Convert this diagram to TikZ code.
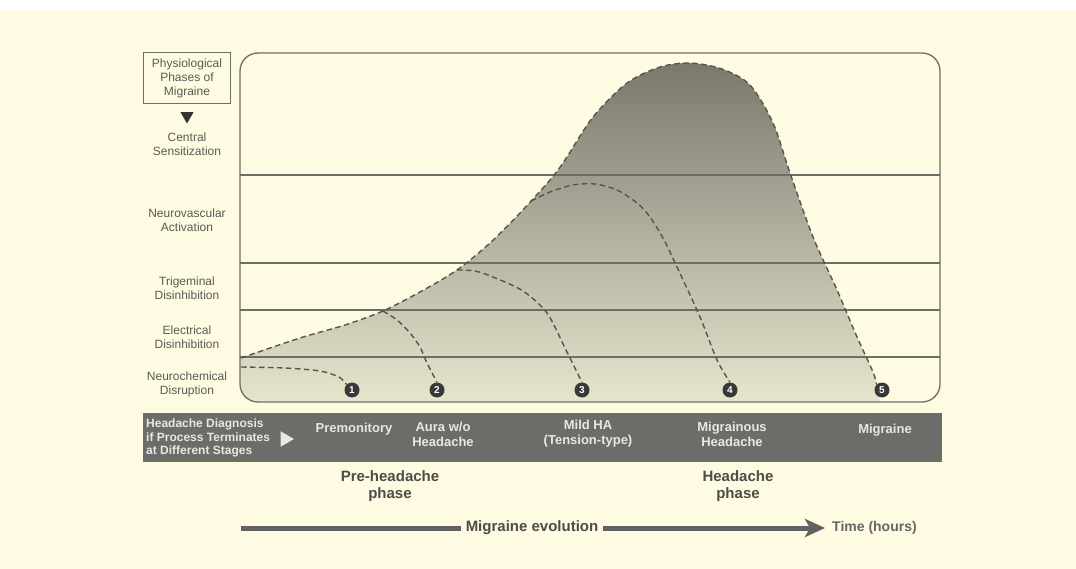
\documentclass[tikz,border=0pt]{standalone}
\usepackage{fontspec}
\setmainfont{Liberation Sans}
\usetikzlibrary{arrows.meta,shapes.geometric}

\definecolor{paper}{HTML}{FEFBE2}
\definecolor{rulegrey}{HTML}{6E6E68}
\definecolor{dashgrey}{HTML}{55554F}
\definecolor{labelgrey}{HTML}{5A5A55}
\definecolor{barfill}{HTML}{6C6C68}
\definecolor{bartext}{HTML}{E8E8E2}
\definecolor{phasegrey}{HTML}{4C4C48}

\begin{document}
\begin{tikzpicture}[x=1pt, y=-1pt,
  every node/.style={inner sep=0pt, align=center},
  layer/.style={font=\fontsize{12}{14}\selectfont, text=labelgrey},
  rowline/.style={draw=rulegrey, line width=1.3pt},
  stagecurve/.style={draw=dashgrey, line width=1.4pt, dash pattern=on 5.5pt off 3.5pt},
  stagenum/.style={circle, fill=black!78, text=white, minimum size=15pt, font=\bfseries\fontsize{10}{10}\selectfont},
  stagelabel/.style={text=bartext, font=\bfseries\fontsize{13}{15}\selectfont},
  phasetext/.style={text=phasegrey, font=\bfseries\fontsize{15}{16.5}\selectfont}
]
% page
\fill[paper] (0,0) rectangle (1076,569);
\fill[white] (0,0) rectangle (1076,10);
\useasboundingbox (0,0) rectangle (1076,569);

% shaded envelope
\begin{scope}
  \clip[rounded corners=18] (240,53) rectangle (940,402);
  \shade[top color=black!52!paper, middle color=black!24!paper, bottom color=black!9!paper]
    plot[smooth] coordinates {(240,358) (300,338) (345,325) (383,311) (420,292) (457,270)
      (490,243) (520,213) (550,180) (565,160) (593,117) (627,83) (660,67) (690,63)
      (722,69) (750,85) (773,123) (790,173) (813,237) (837,290) (857,337) (873,372) (877,385)}
    -- (880,402) -- (240,402) -- cycle;
\end{scope}

% rows
\foreach \ry in {175,263,310,357}
  \draw[rowline] (240,\ry) -- (940,\ry);
\draw[rulegrey, line width=1.3pt, rounded corners=18] (240,53) rectangle (940,402);

% stage markers
\node[stagenum] (n1) at (352,390) {1};
\node[stagenum] (n2) at (437,390) {2};
\node[stagenum] (n3) at (582,390) {3};
\node[stagenum] (n4) at (730,390) {4};
\node[stagenum] (n5) at (882,390) {5};

% stage curves
\draw[stagecurve] plot[smooth] coordinates {(241,367) (285,368) (320,371) (339,377) (n1.north west)};
\draw[stagecurve] plot[smooth] coordinates {(383,311) (397,320) (410,333) (420,347) (427,363) (n2.north)};
\draw[stagecurve] plot[smooth] coordinates {(457,270) (475,271) (493,277) (523,291) (547,313) (565,348) (n3.north)};
\draw[stagecurve] plot[smooth] coordinates {(531,201) (550,192) (573,185) (595,184) (617,190) (637,203)
  (650,217) (664,240) (677,267) (700,317) (717,360) (n4.north)};
\draw[stagecurve] plot[smooth] coordinates {(241,358) (300,338) (345,325) (383,311) (420,292) (457,270)
  (490,243) (520,213) (550,180) (565,160) (593,117) (627,83) (660,67) (690,63)
  (722,69) (750,85) (773,123) (790,173) (813,237) (837,290) (857,337) (873,372) (n5.north west)};

% physiological phases
\node[draw=rulegrey, line width=1pt, minimum width=87pt, minimum height=51pt, layer] (phys) at (187,78)
  {Physiological\\Phases of\\Migraine};
\node[regular polygon, regular polygon sides=3, shape border rotate=180, fill=black!80, minimum size=15pt] (down) at (187,116) {};
\node[layer] (central) at (187,144) {Central\\Sensitization};
\node[layer] (neurovasc) at (187,220) {Neurovascular\\Activation};
\node[layer] (trigem) at (187,288) {Trigeminal\\Disinhibition};
\node[layer] (electric) at (187,337) {Electrical\\Disinhibition};
\node[layer] (neurochem) at (187,384) {Neurochemical\\Disruption};

% diagnosis bar
\node[fill=barfill, minimum width=799pt, minimum height=49pt, anchor=north west] (bar) at (143,413) {};
\node[stagelabel, align=left, anchor=west, font=\bfseries\fontsize{12}{13.5}\selectfont] (diag) at (146,438)
  {Headache Diagnosis\\if Process Terminates\\at Different Stages};
\node[regular polygon, regular polygon sides=3, shape border rotate=-90, fill=bartext, minimum size=18pt] (go) at (285,439) {};
\node[stagelabel] (prem) at (354,429) {Premonitory};
\node[stagelabel] (aura) at (443,434) {Aura w/o\\Headache};
\node[stagelabel] (mild) at (588,434) {Mild HA\\(Tension-type)};
\node[stagelabel] (migrainous) at (732,434) {Migrainous\\Headache};
\node[stagelabel] (migraine) at (885,430) {Migraine};

% phases
\node[phasetext] (prehead) at (390,486) {Pre-headache\\phase};
\node[phasetext] (head) at (738,486) {Headache\\phase};

% time axis
\coordinate (evostart) at (241,528);
\coordinate (evotip) at (825,528);
\node[phasetext, inner xsep=5pt] (evo) at (532,528) {Migraine evolution};
\node[text=black!60, font=\bfseries\fontsize{14}{16}\selectfont, anchor=west] (time) at (832,528) {Time (hours)};
\draw[black!62, line width=5pt] (evostart) -- (evo.west);
\draw[black!62, line width=5pt, -{Stealth[length=20pt, width=18pt, inset=5pt]}] (evo.east) -- (evotip);
\end{tikzpicture}
\end{document}
